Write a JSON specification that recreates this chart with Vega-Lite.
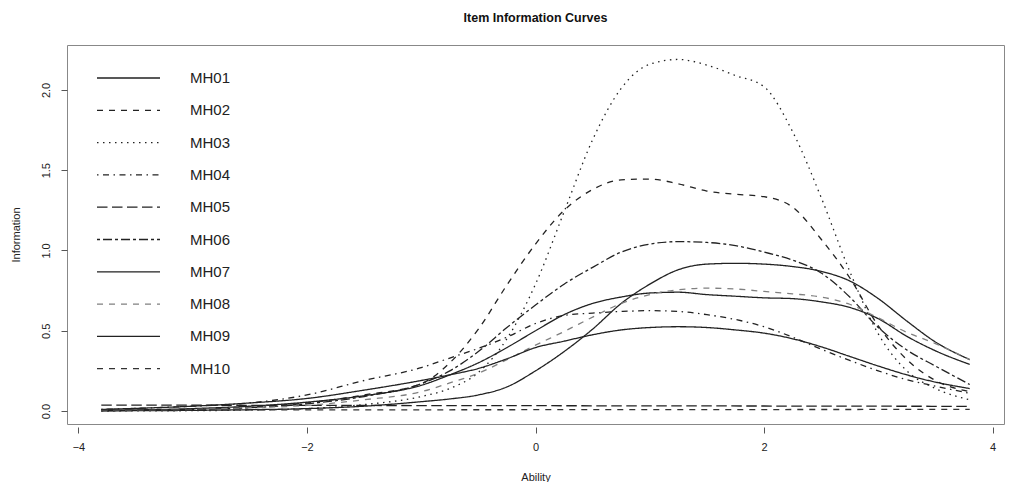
{
  "$schema": "https://vega.github.io/schema/vega-lite/v6.json",
  "width": 937,
  "height": 379,
  "autosize": {"type": "none"},
  "padding": {"left": 67, "top": 45, "right": 6, "bottom": 58},
  "background": "white",
  "title": {"text": "Item Information Curves", "font": "Liberation Sans", "fontSize": 12.5, "fontWeight": "bold", "color": "#111", "anchor": "middle", "baseline": "alphabetic", "offset": 11},
  "config": {
    "view": {"stroke": "#888", "strokeWidth": 1},
    "axis": {"labelFont": "Liberation Sans", "titleFont": "Liberation Sans", "labelFontSize": 11, "titleFontSize": 11, "titleFontWeight": "normal", "labelColor": "#222", "titleColor": "#222", "tickColor": "#555", "grid": false, "domain": false}
  },
  "data": {"values": [
    {"item":"MH01","theta":-3.8,"info":0.004},{"item":"MH01","theta":-3,"info":0.015},{"item":"MH01","theta":-2.5,"info":0.03},{"item":"MH01","theta":-2,"info":0.055},{"item":"MH01","theta":-1.5,"info":0.095},{"item":"MH01","theta":-1,"info":0.16},{"item":"MH01","theta":-0.75,"info":0.225},{"item":"MH01","theta":-0.5,"info":0.3},{"item":"MH01","theta":-0.25,"info":0.395},{"item":"MH01","theta":0,"info":0.5},{"item":"MH01","theta":0.25,"info":0.6},{"item":"MH01","theta":0.5,"info":0.67},{"item":"MH01","theta":0.75,"info":0.71},{"item":"MH01","theta":1,"info":0.735},{"item":"MH01","theta":1.25,"info":0.74},{"item":"MH01","theta":1.5,"info":0.725},{"item":"MH01","theta":1.75,"info":0.715},{"item":"MH01","theta":2,"info":0.705},{"item":"MH01","theta":2.25,"info":0.7},{"item":"MH01","theta":2.5,"info":0.68},{"item":"MH01","theta":2.75,"info":0.645},{"item":"MH01","theta":3,"info":0.575},{"item":"MH01","theta":3.25,"info":0.465},{"item":"MH01","theta":3.5,"info":0.375},{"item":"MH01","theta":3.8,"info":0.29},
    {"item":"MH02","theta":-3.8,"info":0.003},{"item":"MH02","theta":-3,"info":0.01},{"item":"MH02","theta":-2.5,"info":0.025},{"item":"MH02","theta":-2,"info":0.05},{"item":"MH02","theta":-1.5,"info":0.1},{"item":"MH02","theta":-1,"info":0.17},{"item":"MH02","theta":-0.75,"info":0.3},{"item":"MH02","theta":-0.5,"info":0.51},{"item":"MH02","theta":-0.25,"info":0.785},{"item":"MH02","theta":0,"info":1.04},{"item":"MH02","theta":0.25,"info":1.25},{"item":"MH02","theta":0.5,"info":1.38},{"item":"MH02","theta":0.75,"info":1.44},{"item":"MH02","theta":1,"info":1.445},{"item":"MH02","theta":1.25,"info":1.415},{"item":"MH02","theta":1.5,"info":1.37},{"item":"MH02","theta":1.75,"info":1.35},{"item":"MH02","theta":2,"info":1.335},{"item":"MH02","theta":2.25,"info":1.27},{"item":"MH02","theta":2.5,"info":1.07},{"item":"MH02","theta":2.75,"info":0.83},{"item":"MH02","theta":3,"info":0.53},{"item":"MH02","theta":3.25,"info":0.32},{"item":"MH02","theta":3.5,"info":0.19},{"item":"MH02","theta":3.8,"info":0.12},
    {"item":"MH03","theta":-3.8,"info":0.0},{"item":"MH03","theta":-3,"info":0.002},{"item":"MH03","theta":-2.5,"info":0.006},{"item":"MH03","theta":-2,"info":0.015},{"item":"MH03","theta":-1.5,"info":0.04},{"item":"MH03","theta":-1,"info":0.09},{"item":"MH03","theta":-0.75,"info":0.14},{"item":"MH03","theta":-0.5,"info":0.24},{"item":"MH03","theta":-0.25,"info":0.45},{"item":"MH03","theta":0,"info":0.79},{"item":"MH03","theta":0.25,"info":1.24},{"item":"MH03","theta":0.5,"info":1.69},{"item":"MH03","theta":0.75,"info":2.01},{"item":"MH03","theta":1,"info":2.16},{"item":"MH03","theta":1.25,"info":2.19},{"item":"MH03","theta":1.5,"info":2.155},{"item":"MH03","theta":1.75,"info":2.09},{"item":"MH03","theta":2,"info":2.02},{"item":"MH03","theta":2.25,"info":1.74},{"item":"MH03","theta":2.5,"info":1.33},{"item":"MH03","theta":2.75,"info":0.87},{"item":"MH03","theta":3,"info":0.48},{"item":"MH03","theta":3.25,"info":0.25},{"item":"MH03","theta":3.5,"info":0.14},{"item":"MH03","theta":3.8,"info":0.07},
    {"item":"MH04","theta":-3.8,"info":0.01},{"item":"MH04","theta":-3,"info":0.03},{"item":"MH04","theta":-2.5,"info":0.05},{"item":"MH04","theta":-2,"info":0.1},{"item":"MH04","theta":-1.5,"info":0.19},{"item":"MH04","theta":-1,"info":0.27},{"item":"MH04","theta":-0.75,"info":0.33},{"item":"MH04","theta":-0.5,"info":0.39},{"item":"MH04","theta":-0.25,"info":0.46},{"item":"MH04","theta":0,"info":0.545},{"item":"MH04","theta":0.25,"info":0.595},{"item":"MH04","theta":0.5,"info":0.61},{"item":"MH04","theta":0.75,"info":0.62},{"item":"MH04","theta":1,"info":0.625},{"item":"MH04","theta":1.25,"info":0.62},{"item":"MH04","theta":1.5,"info":0.6},{"item":"MH04","theta":1.75,"info":0.57},{"item":"MH04","theta":2,"info":0.525},{"item":"MH04","theta":2.25,"info":0.46},{"item":"MH04","theta":2.5,"info":0.385},{"item":"MH04","theta":2.75,"info":0.315},{"item":"MH04","theta":3,"info":0.25},{"item":"MH04","theta":3.25,"info":0.195},{"item":"MH04","theta":3.5,"info":0.155},{"item":"MH04","theta":3.8,"info":0.11},
    {"item":"MH05","theta":-3.8,"info":0.037},{"item":"MH05","theta":-2,"info":0.035},{"item":"MH05","theta":0,"info":0.033},{"item":"MH05","theta":2,"info":0.031},{"item":"MH05","theta":3.8,"info":0.029},
    {"item":"MH06","theta":-3.8,"info":0.002},{"item":"MH06","theta":-3,"info":0.01},{"item":"MH06","theta":-2.5,"info":0.02},{"item":"MH06","theta":-2,"info":0.045},{"item":"MH06","theta":-1.5,"info":0.09},{"item":"MH06","theta":-1,"info":0.17},{"item":"MH06","theta":-0.75,"info":0.25},{"item":"MH06","theta":-0.5,"info":0.37},{"item":"MH06","theta":-0.25,"info":0.52},{"item":"MH06","theta":0,"info":0.66},{"item":"MH06","theta":0.25,"info":0.79},{"item":"MH06","theta":0.5,"info":0.895},{"item":"MH06","theta":0.75,"info":0.99},{"item":"MH06","theta":1,"info":1.04},{"item":"MH06","theta":1.25,"info":1.055},{"item":"MH06","theta":1.5,"info":1.05},{"item":"MH06","theta":1.75,"info":1.03},{"item":"MH06","theta":2,"info":0.99},{"item":"MH06","theta":2.25,"info":0.94},{"item":"MH06","theta":2.5,"info":0.86},{"item":"MH06","theta":2.75,"info":0.71},{"item":"MH06","theta":3,"info":0.52},{"item":"MH06","theta":3.25,"info":0.38},{"item":"MH06","theta":3.5,"info":0.28},{"item":"MH06","theta":3.8,"info":0.165},
    {"item":"MH07","theta":-3.8,"info":0.001},{"item":"MH07","theta":-3,"info":0.004},{"item":"MH07","theta":-2.5,"info":0.008},{"item":"MH07","theta":-2,"info":0.015},{"item":"MH07","theta":-1.5,"info":0.03},{"item":"MH07","theta":-1,"info":0.058},{"item":"MH07","theta":-0.75,"info":0.075},{"item":"MH07","theta":-0.5,"info":0.1},{"item":"MH07","theta":-0.25,"info":0.15},{"item":"MH07","theta":0,"info":0.25},{"item":"MH07","theta":0.25,"info":0.37},{"item":"MH07","theta":0.5,"info":0.51},{"item":"MH07","theta":0.75,"info":0.67},{"item":"MH07","theta":1,"info":0.79},{"item":"MH07","theta":1.25,"info":0.88},{"item":"MH07","theta":1.5,"info":0.915},{"item":"MH07","theta":1.75,"info":0.92},{"item":"MH07","theta":2,"info":0.915},{"item":"MH07","theta":2.25,"info":0.9},{"item":"MH07","theta":2.5,"info":0.87},{"item":"MH07","theta":2.75,"info":0.81},{"item":"MH07","theta":3,"info":0.7},{"item":"MH07","theta":3.25,"info":0.56},{"item":"MH07","theta":3.5,"info":0.43},{"item":"MH07","theta":3.8,"info":0.32},
    {"item":"MH08","theta":-3.8,"info":0.003},{"item":"MH08","theta":-3,"info":0.01},{"item":"MH08","theta":-2.5,"info":0.02},{"item":"MH08","theta":-2,"info":0.035},{"item":"MH08","theta":-1.5,"info":0.07},{"item":"MH08","theta":-1,"info":0.12},{"item":"MH08","theta":-0.75,"info":0.175},{"item":"MH08","theta":-0.5,"info":0.235},{"item":"MH08","theta":-0.25,"info":0.32},{"item":"MH08","theta":0,"info":0.41},{"item":"MH08","theta":0.25,"info":0.495},{"item":"MH08","theta":0.5,"info":0.585},{"item":"MH08","theta":0.75,"info":0.67},{"item":"MH08","theta":1,"info":0.725},{"item":"MH08","theta":1.25,"info":0.755},{"item":"MH08","theta":1.5,"info":0.765},{"item":"MH08","theta":1.75,"info":0.76},{"item":"MH08","theta":2,"info":0.745},{"item":"MH08","theta":2.25,"info":0.73},{"item":"MH08","theta":2.5,"info":0.71},{"item":"MH08","theta":2.75,"info":0.665},{"item":"MH08","theta":3,"info":0.58},{"item":"MH08","theta":3.25,"info":0.49},{"item":"MH08","theta":3.5,"info":0.42},{"item":"MH08","theta":3.8,"info":0.32},
    {"item":"MH09","theta":-3.8,"info":0.01},{"item":"MH09","theta":-3,"info":0.03},{"item":"MH09","theta":-2.5,"info":0.05},{"item":"MH09","theta":-2,"info":0.078},{"item":"MH09","theta":-1.5,"info":0.13},{"item":"MH09","theta":-1,"info":0.19},{"item":"MH09","theta":-0.75,"info":0.225},{"item":"MH09","theta":-0.5,"info":0.265},{"item":"MH09","theta":-0.25,"info":0.325},{"item":"MH09","theta":0,"info":0.395},{"item":"MH09","theta":0.25,"info":0.435},{"item":"MH09","theta":0.5,"info":0.475},{"item":"MH09","theta":0.75,"info":0.505},{"item":"MH09","theta":1,"info":0.52},{"item":"MH09","theta":1.25,"info":0.525},{"item":"MH09","theta":1.5,"info":0.52},{"item":"MH09","theta":1.75,"info":0.505},{"item":"MH09","theta":2,"info":0.485},{"item":"MH09","theta":2.25,"info":0.45},{"item":"MH09","theta":2.5,"info":0.4},{"item":"MH09","theta":2.75,"info":0.34},{"item":"MH09","theta":3,"info":0.28},{"item":"MH09","theta":3.25,"info":0.225},{"item":"MH09","theta":3.5,"info":0.18},{"item":"MH09","theta":3.8,"info":0.14},
    {"item":"MH10","theta":-3.8,"info":0.006},{"item":"MH10","theta":0,"info":0.008},{"item":"MH10","theta":3.8,"info":0.01}
  ]},
  "mark": {"type": "line", "strokeWidth": 1.3, "interpolate": "monotone"},
  "encoding": {
    "x": {"field": "theta", "type": "quantitative", "scale": {"domain": [-4.1, 4.1], "nice": false, "zero": false},
      "axis": {"values": [-4, -2, 0, 2, 4], "title": "Ability", "offset": 3, "tickSize": 6, "labelPadding": 8, "titlePadding": 19}},
    "y": {"field": "info", "type": "quantitative", "scale": {"domain": [-0.081, 2.28], "nice": false, "zero": false},
      "axis": {"values": [0, 0.5, 1, 1.5, 2], "format": ".1f", "title": "Information", "tickSize": 6, "labelAngle": 270, "labelAlign": "center", "labelBaseline": "bottom", "labelPadding": 10, "titlePadding": 19}},
    "color": {"field": "item", "type": "nominal",
      "scale": {"domain": ["MH01","MH02","MH03","MH04","MH05","MH06","MH07","MH08","MH09","MH10"], "range": ["#222","#222","#222","#222","#222","#222","#222","#808080","#222","#333"]},
      "legend": {"title": null, "orient": "none", "legendX": 29, "legendY": 23, "symbolType": "stroke", "symbolSize": 3969, "symbolStrokeWidth": 1.3, "clipHeight": 20, "rowPadding": 12.3, "labelOffset": 29, "labelFont": "Liberation Sans", "labelFontSize": 15, "labelColor": "#222", "padding": 0}},
    "strokeDash": {"field": "item", "type": "nominal",
      "scale": {"domain": ["MH01","MH02","MH03","MH04","MH05","MH06","MH07","MH08","MH09","MH10"], "range": [[1,0],[6,6],[1.5,4.5],[1.5,4.5,6,4.5],[10.5,4.5],[3,3,9,3],[1,0],[6,6],[1,0],[6,6]]},
      "legend": {"title": null, "orient": "none", "legendX": 29, "legendY": 23, "symbolType": "stroke", "symbolSize": 3969, "symbolStrokeWidth": 1.3, "clipHeight": 20, "rowPadding": 12.3, "labelOffset": 29, "labelFont": "Liberation Sans", "labelFontSize": 15, "labelColor": "#222", "padding": 0}}
  }
}
